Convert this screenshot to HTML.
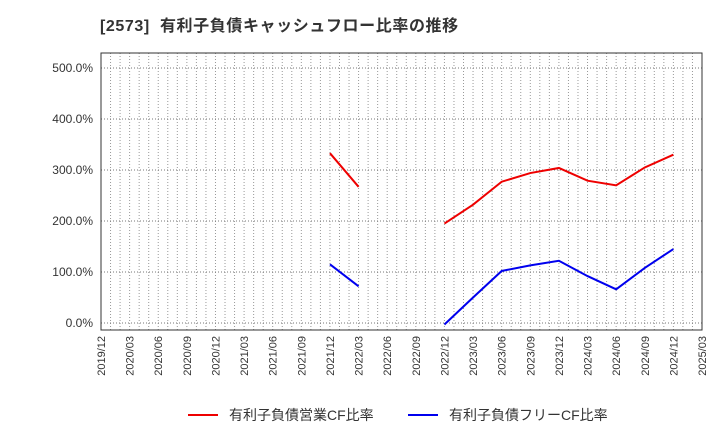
<!DOCTYPE html>
<html><head><meta charset="utf-8"><style>
body{margin:0;background:#fff;font-family:"Liberation Sans","Noto Sans CJK JP",sans-serif;}
</style></head><body>
<svg id="c" width="720" height="440" xmlns="http://www.w3.org/2000/svg">
<text x="100" y="31" font-size="16" font-weight="bold" fill="#333" style="white-space:pre" letter-spacing="0.6" font-family="Liberation Sans, Noto Sans CJK JP, sans-serif">[2573]  有利子負債キャッシュフロー比率の推移</text>
<g id="grid"></g><g id="axes"></g><g id="series"></g>
<g>
<line x1="188" y1="415" x2="218" y2="415" stroke="#ee0000" stroke-width="2"/>
<text x="229" y="420" font-size="14" fill="#333">有利子負債営業CF比率</text>
<line x1="408" y1="415" x2="438" y2="415" stroke="#0000ee" stroke-width="2"/>
<text x="449" y="420" font-size="14" fill="#333">有利子負債フリーCF比率</text>
</g>
</svg>
<script>
const categories=["2019/12","2020/03","2020/06","2020/09","2020/12","2021/03","2021/06","2021/09","2021/12","2022/03","2022/06","2022/09","2022/12","2023/03","2023/06","2023/09","2023/12","2024/03","2024/06","2024/09","2024/12","2025/03"];
const opCF=[null,null,null,null,null,null,null,null,333,267,null,null,195,232,277,294,304,279,270,305,330,null];
const freeCF=[null,null,null,null,null,null,null,null,115,72,null,null,-3,50,102,113,122,92,66,108,145,null];
const yTicks=[0,100,200,300,400,500];
const L=101,R=702,T=53,B=330;
const x=i=>L+(R-L)*i/(categories.length-1);
const y=v=>323-v*0.51;
const NS="http://www.w3.org/2000/svg";
function mk(t,a,p){const e=document.createElementNS(NS,t);for(const k in a)e.setAttribute(k,a[k]);p.appendChild(e);return e;}
const g=document.getElementById('grid'),ax=document.getElementById('axes'),s=document.getElementById('series');
const months=(categories.length-1)*3;
for(let m=1;m<months;m++){const xx=L+(R-L)*m/months;
const l=mk('line',{x1:xx,x2:xx,y1:T,y2:B,stroke:'#999','stroke-width':1,'stroke-dasharray':'1,2'},g);

}
yTicks.forEach(v=>{const l=mk('line',{x1:L,x2:R,y1:y(v),y2:y(v),stroke:'#777','stroke-width':1,'stroke-dasharray':'1,2'},g);


const t=mk('text',{x:L-8,y:y(v)+4,'font-size':12,fill:'#333','text-anchor':'end'},ax);t.textContent=v.toFixed(1)+'%';

});
const fr=mk('rect',{x:L,y:T,width:R-L,height:B-T,fill:'none',stroke:'#333','stroke-width':1},ax);


categories.forEach((c,i)=>{const t=mk('text',{x:0,y:0,'font-size':11,fill:'#333','text-anchor':'end',transform:`translate(${x(i)+4},${B+6}) rotate(-90)`},ax);t.textContent=c;

});
function draw(arr,col,name){let seg=[];const segs=[];arr.forEach((v,i)=>{if(v===null){if(seg.length)segs.push(seg);seg=[];}else seg.push([x(i),y(v)]);});if(seg.length)segs.push(seg);
segs.forEach(sg=>{const p=mk('polyline',{points:sg.map(q=>q.join(',')).join(' '),fill:'none',stroke:col,'stroke-width':2},s);

});}
draw(opCF,'#ee0000','operating-cf-line');
draw(freeCF,'#0000ee','free-cf-line');
</script>
</body></html>
